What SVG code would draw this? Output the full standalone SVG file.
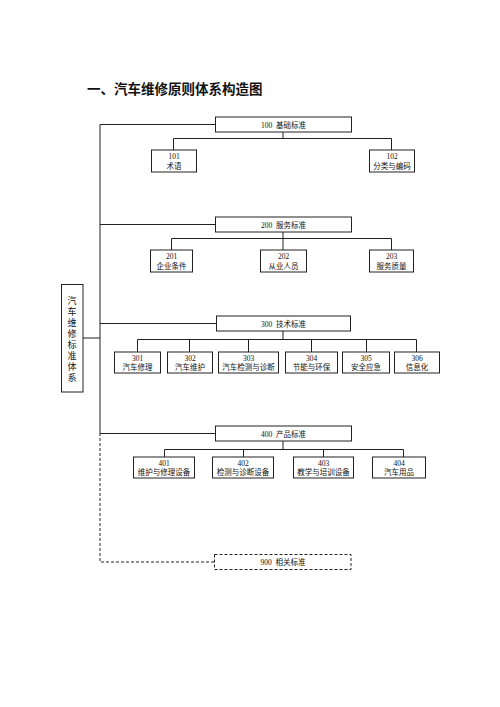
<svg xmlns="http://www.w3.org/2000/svg" width="500" height="707" viewBox="0 0 500 707">
<style>
.bx{fill:#fff;stroke:#222;stroke-width:1}
.dbx{fill:#fff;stroke:#222;stroke-width:1;stroke-dasharray:3,2}
.ln{fill:none;stroke:#222;stroke-width:1}
.dln{fill:none;stroke:#222;stroke-width:1;stroke-dasharray:3,2}
text{font-family:"Liberation Serif","Noto Sans CJK SC",serif;font-size:7.5px;fill:#111;text-anchor:middle;white-space:pre}
.title{font-family:"Noto Sans CJK SC",sans-serif;font-size:13.5px;font-weight:bold;text-anchor:start}
.vt{font-size:9px}
</style>
<rect width="500" height="707" fill="#fff"/>
<text class="title" x="87" y="94">一、汽车维修原则体系构造图</text>

<g id="connectors">
<path class="ln" d="M100,124.5 V433"/>
<path class="dln" d="M100,433 V562 H214"/>
<path class="ln" d="M83,338 H100"/>
<path class="ln" d="M100,124.5 H215"/>
<path class="ln" d="M100,224.5 H215"/>
<path class="ln" d="M100,323.5 H216"/>
<path class="ln" d="M100,433.5 H215"/>
<path class="ln" d="M283,132 V138.5 M173.5,150 V138.5 H391.5 V150"/>
<path class="ln" d="M283,232 V238.5 M171.5,250 V238.5 H391.5 V250 M283,238.5 V250"/>
<path class="ln" d="M283,331 V339.5 M137.5,352 V339.5 H416.5 V352 M189.5,339.5 V352 M248.5,339.5 V352 M311.5,339.5 V352 M366.5,339.5 V352"/>
<path class="ln" d="M283,441 V449.5 M164.5,457 V449.5 H403.5 V457 M243.5,449.5 V457 M323.5,449.5 V457"/>
</g>

<g id="root"><rect class="bx" x="61.5" y="284.5" width="21.5" height="107.5"/>
<text class="vt" x="72" y="304">汽</text><text class="vt" x="72" y="315">车</text><text class="vt" x="72" y="326">维</text><text class="vt" x="72" y="337">修</text><text class="vt" x="72" y="348">标</text><text class="vt" x="72" y="359">准</text><text class="vt" x="72" y="370">体</text><text class="vt" x="72" y="381">系</text></g>

<g id="n100"><rect class="bx" x="215.5" y="117" width="136" height="15"/><text x="283.5" y="127.5">100  基础标准</text></g>
<g id="n101"><rect class="bx" x="151.5" y="150" width="45" height="22"/><text x="174" y="159">101</text><text x="174" y="168.5">术语</text></g>
<g id="n102"><rect class="bx" x="369.5" y="150" width="45" height="22"/><text x="392" y="159">102</text><text x="392" y="168.5">分类与编码</text></g>

<g id="n200"><rect class="bx" x="215.5" y="217" width="136" height="15"/><text x="283.5" y="227.5">200  服务标准</text></g>
<g id="n201"><rect class="bx" x="150.5" y="250" width="42" height="22"/><text x="171.5" y="259">201</text><text x="171.5" y="268.5">企业条件</text></g>
<g id="n202"><rect class="bx" x="260.5" y="250" width="46" height="22"/><text x="283.5" y="259">202</text><text x="283.5" y="268.5">从业人员</text></g>
<g id="n203"><rect class="bx" x="369.5" y="250" width="44" height="22"/><text x="391.5" y="259">203</text><text x="391.5" y="268.5">服务质量</text></g>

<g id="n300"><rect class="bx" x="216.5" y="316" width="134" height="15"/><text x="283.5" y="326.5">300  技术标准</text></g>
<g id="n301"><rect class="bx" x="114.5" y="352" width="46" height="21"/><text x="137.5" y="361">301</text><text x="137.5" y="370">汽车修理</text></g>
<g id="n302"><rect class="bx" x="167.5" y="352" width="45" height="21"/><text x="190" y="361">302</text><text x="190" y="370">汽车维护</text></g>
<g id="n303"><rect class="bx" x="218.5" y="352" width="60" height="21"/><text x="248.5" y="361">303</text><text x="248.5" y="370">汽车检测与诊断</text></g>
<g id="n304"><rect class="bx" x="285.5" y="352" width="52" height="21"/><text x="311.5" y="361">304</text><text x="311.5" y="370">节能与环保</text></g>
<g id="n305"><rect class="bx" x="342.5" y="352" width="47" height="21"/><text x="366" y="361">305</text><text x="366" y="370">安全应急</text></g>
<g id="n306"><rect class="bx" x="394.5" y="352" width="45" height="21"/><text x="417" y="361">306</text><text x="417" y="370">信息化</text></g>

<g id="n400"><rect class="bx" x="215.5" y="426" width="136" height="15"/><text x="283.5" y="436.5">400  产品标准</text></g>
<g id="n401"><rect class="bx" x="133.5" y="457" width="61" height="21"/><text x="164" y="466">401</text><text x="164" y="475">维护与修理设备</text></g>
<g id="n402"><rect class="bx" x="212.5" y="457" width="61" height="21"/><text x="243" y="466">402</text><text x="243" y="475">检测与诊断设备</text></g>
<g id="n403"><rect class="bx" x="293.5" y="457" width="60" height="21"/><text x="323.5" y="466">403</text><text x="323.5" y="475">教学与培训设备</text></g>
<g id="n404"><rect class="bx" x="372.5" y="457" width="53" height="21"/><text x="399" y="466">404</text><text x="399" y="475">汽车用品</text></g>

<g id="n900"><rect class="dbx" x="214.5" y="554.5" width="136.5" height="15"/><text x="283" y="565">900  相关标准</text></g>
</svg>
